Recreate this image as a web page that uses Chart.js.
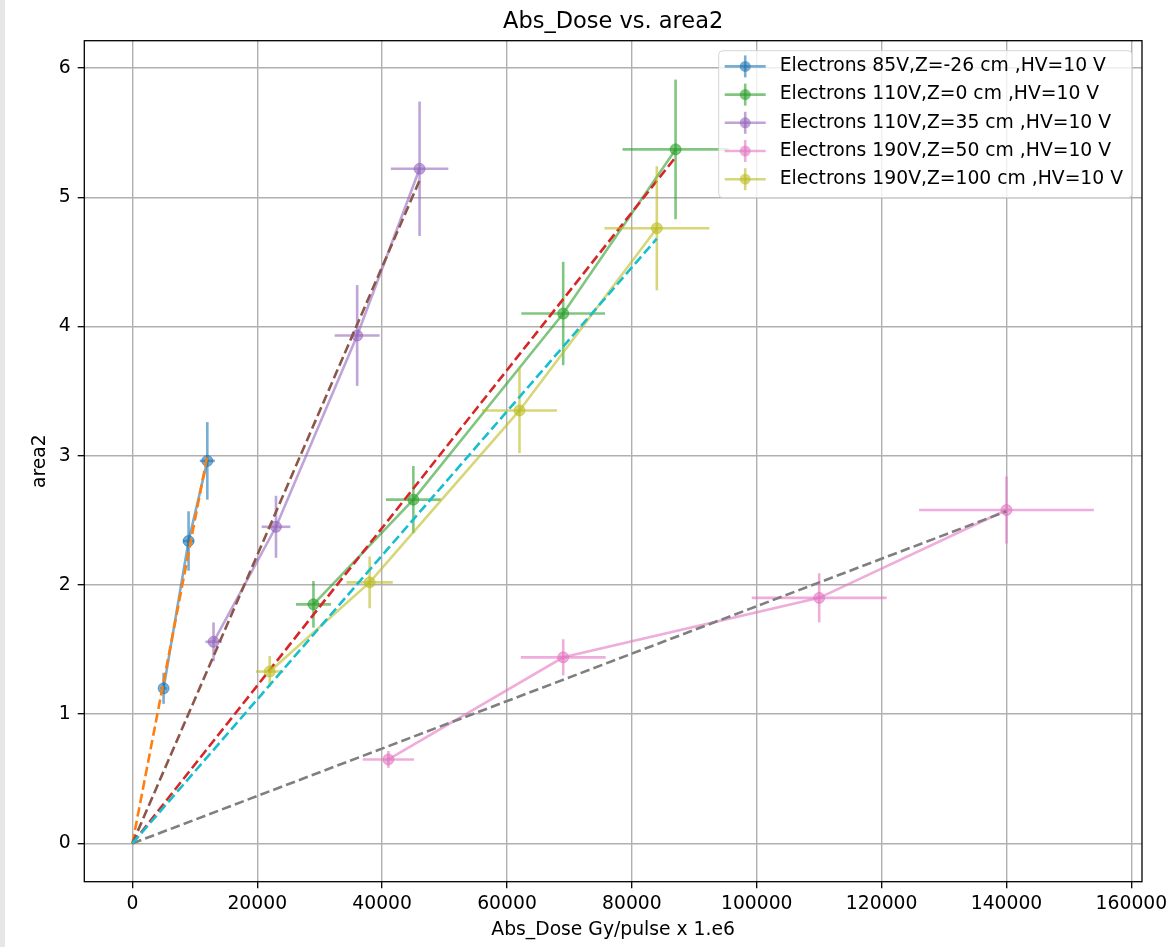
<!DOCTYPE html>
<html>
<head>
<meta charset="utf-8">
<title>Abs_Dose vs. area2</title>
<script src="https://cdn.jsdelivr.net/npm/chart.js@4.4.1/dist/chart.umd.min.js"></script>
<style>
  html, body { margin: 0; padding: 0; background: #fff; }
  #wrap { position: relative; width: 1172px; height: 947px; }
  #strip { position: absolute; left: 0; top: 0; width: 5px; height: 947px; background: #e6e6e6; }
</style>
</head>
<body>
<div id="wrap">
  <canvas id="chart" width="1172" height="947"></canvas>
  <div id="strip"></div>
</div>
<script>
// tick labels
var xTicks = [0, 20000, 40000, 60000, 80000, 100000, 120000, 140000, 160000];
var yTicks = [0, 1, 2, 3, 4, 5, 6];

// legend labels
var seriesLabels = [
    'Electrons 85V,Z=-26 cm ,HV=10 V',
    'Electrons 110V,Z=0 cm ,HV=10 V',
    'Electrons 110V,Z=35 cm ,HV=10 V',
    'Electrons 190V,Z=50 cm ,HV=10 V',
    'Electrons 190V,Z=100 cm ,HV=10 V'
];

// measured points (dose, area2) with error bars
var e85Dose = [5000, 9000, 12000];
var e85Area = [1.20, 2.34, 2.96];
var e85DoseErr = [500, 900, 1200];
var e85AreaErr = [0.12, 0.23, 0.30];

var e110z0Dose = [29000, 45000, 69000, 87000];
var e110z0Area = [1.85, 2.66, 4.10, 5.37];
var e110z0DoseErr = [2800, 4400, 6700, 8500];
var e110z0AreaErr = [0.18, 0.26, 0.40, 0.54];

var e110z35Dose = [13000, 23000, 36000, 46000];
var e110z35Area = [1.56, 2.45, 3.93, 5.22];
var e110z35DoseErr = [1300, 2300, 3600, 4600];
var e110z35AreaErr = [0.15, 0.24, 0.39, 0.52];

var e190z50Dose = [41000, 69000, 110000, 140000];
var e190z50Area = [0.65, 1.44, 1.90, 2.58];
var e190z50DoseErr = [4100, 6800, 10800, 14000];
var e190z50AreaErr = [0.065, 0.14, 0.19, 0.26];

var e190z100Dose = [22000, 38000, 62000, 84000];
var e190z100Area = [1.33, 2.02, 3.35, 4.76];
var e190z100DoseErr = [2200, 3700, 6000, 8400];
var e190z100AreaErr = [0.12, 0.20, 0.33, 0.48];

// dashed fit lines through the origin
var fit85Dose = [0, 12000];
var fit85Area = [0, 3.0];
var fit110z0Dose = [0, 87000];
var fit110z0Area = [0, 5.31];
var fit110z35Dose = [0, 46000];
var fit110z35Area = [0, 5.13];
var fit190z50Dose = [0, 140000];
var fit190z50Area = [0, 2.57];
var fit190z100Dose = [0, 84000];
var fit190z100Area = [0, 4.68];

var FONT = '"DejaVu Sans", "Liberation Sans", sans-serif';
var seriesColors = ['#1f77b4', '#2ca02c', '#9467bd', '#e377c2', '#bcbd22'];
var fitColors = ['#ff7f0e', '#d62728', '#8c564b', '#7f7f7f', '#17becf'];

function rgba(hex, a) {
    var n = parseInt(hex.slice(1), 16);
    return 'rgba(' + (n >> 16) + ',' + ((n >> 8) & 255) + ',' + (n & 255) + ',' + a + ')';
}

function toPoints(xs, ys) {
    return xs.map(function(x, i) { return { x: x, y: ys[i] }; });
}

var measured = [
    [e85Dose, e85Area, e85DoseErr, e85AreaErr],
    [e110z0Dose, e110z0Area, e110z0DoseErr, e110z0AreaErr],
    [e110z35Dose, e110z35Area, e110z35DoseErr, e110z35AreaErr],
    [e190z50Dose, e190z50Area, e190z50DoseErr, e190z50AreaErr],
    [e190z100Dose, e190z100Area, e190z100DoseErr, e190z100AreaErr]
];
var fits = [
    [fit85Dose, fit85Area],
    [fit110z0Dose, fit110z0Area],
    [fit110z35Dose, fit110z35Area],
    [fit190z50Dose, fit190z50Area],
    [fit190z100Dose, fit190z100Area]
];

// matplotlib order: errorbar series, then its fit; later ones on top
var datasets = [];
measured.forEach(function(m, i) {
    var c = rgba(seriesColors[i], 0.6);
    datasets.push({
        label: seriesLabels[i],
        data: toPoints(m[0], m[1]),
        xErr: m[2],
        yErr: m[3],
        errColor: c,
        showLine: true,
        borderColor: c,
        borderWidth: 2.6,
        pointRadius: 5.5,
        pointBackgroundColor: c,
        pointBorderColor: c,
        pointBorderWidth: 1,
        tension: 0
    });
    datasets.push({
        label: 'fit ' + i,
        data: toPoints(fits[i][0], fits[i][1]),
        showLine: true,
        borderColor: fitColors[i],
        borderWidth: 2.6,
        borderDash: [9.5, 4.2],
        pointRadius: 0,
        tension: 0
    });
});
datasets.forEach(function(d, i) { d.order = -i; });

var errorBars = {
    id: 'errorBars',
    beforeDatasetDraw: function(chart, args) {
        var ds = chart.data.datasets[args.index];
        if (!ds.xErr) return;
        var ctx = chart.ctx, xs = chart.scales.x, ys = chart.scales.y;
        ctx.save();
        ctx.strokeStyle = ds.errColor;
        ctx.lineWidth = 2.6;
        ds.data.forEach(function(p, j) {
            var px = xs.getPixelForValue(p.x), py = ys.getPixelForValue(p.y);
            ctx.beginPath();
            ctx.moveTo(xs.getPixelForValue(p.x - ds.xErr[j]), py);
            ctx.lineTo(xs.getPixelForValue(p.x + ds.xErr[j]), py);
            ctx.stroke();
            ctx.beginPath();
            ctx.moveTo(px, ys.getPixelForValue(p.y - ds.yErr[j]));
            ctx.lineTo(px, ys.getPixelForValue(p.y + ds.yErr[j]));
            ctx.stroke();
        });
        ctx.restore();
    }
};

var frameAndLegend = {
    id: 'frameAndLegend',
    afterDatasetsDraw: function(chart) {
        var ctx = chart.ctx, a = chart.chartArea;
        ctx.save();
        ctx.strokeStyle = '#000';
        ctx.lineWidth = 1.3;
        ctx.strokeRect(a.left, a.top, a.right - a.left, a.bottom - a.top);
        ctx.restore();
    },
    afterDraw: function(chart) {
        var ctx = chart.ctx, a = chart.chartArea;
        ctx.save();
        ctx.font = '18.75px ' + FONT;
        var maxW = 0;
        seriesLabels.forEach(function(t) { maxW = Math.max(maxW, ctx.measureText(t).width); });
        var rowH = 28.2, padTop = 15.7;
        var w = 61 + maxW + 9, h = 147;
        var right = a.right - 10, top = a.top + 10, left = right - w;
        ctx.beginPath();
        ctx.roundRect(left, top, w, h, 4);
        ctx.fillStyle = 'rgba(255,255,255,0.8)';
        ctx.fill();
        ctx.strokeStyle = 'rgba(204,204,204,0.8)';
        ctx.lineWidth = 1;
        ctx.stroke();
        seriesLabels.forEach(function(t, i) {
            var y = top + padTop + i * rowH;
            var c = rgba(seriesColors[i], 0.6);
            var cx = left + 26.5;
            ctx.strokeStyle = c;
            ctx.lineWidth = 2.6;
            ctx.beginPath();
            ctx.moveTo(left + 6, y);
            ctx.lineTo(left + 47, y);
            ctx.stroke();
            ctx.beginPath();
            ctx.moveTo(cx, y - 11);
            ctx.lineTo(cx, y + 11);
            ctx.stroke();
            ctx.beginPath();
            ctx.arc(cx, y, 5.5, 0, Math.PI * 2);
            ctx.fillStyle = c;
            ctx.fill();
            ctx.fillStyle = '#000';
            ctx.textBaseline = 'middle';
            ctx.textAlign = 'left';
            ctx.fillText(t, left + 61, y);
        });
        ctx.restore();
    }
};

var chart = new Chart(document.getElementById('chart').getContext('2d'), {
    type: 'scatter',
    data: { datasets: datasets },
    plugins: [errorBars, frameAndLegend],
    options: {
        responsive: false,
        animation: false,
        events: [],
        layout: { padding: { left: 0, right: 30, top: 0, bottom: 0 } },
        plugins: {
            legend: { display: false },
            tooltip: { enabled: false },
            title: {
                display: true,
                text: 'Abs_Dose vs. area2',
                fullSize: false,
                color: '#000',
                font: { family: FONT, size: 22.5, weight: 'normal', lineHeight: 1.2 },
                padding: { top: 8.5, bottom: 5.2 }
            }
        },
        scales: {
            x: {
                type: 'linear',
                min: -7700,
                max: 161700,
                afterFit: function(s) { s.height = 65.3; },
                afterBuildTicks: function(s) { s.ticks = xTicks.map(function(v) { return { value: v }; }); },
                ticks: {
                    color: '#000',
                    padding: 4.5,
                    maxRotation: 0,
                    autoSkip: false,
                    font: { family: FONT, size: 18.75, lineHeight: 1.2 },
                    callback: function(v) { return String(v); }
                },
                grid: { color: '#b0b0b0', lineWidth: 1.4, tickColor: '#000', tickLength: 6.6, tickWidth: 1.3 },
                border: { display: false },
                title: {
                    display: true,
                    text: 'Abs_Dose Gy/pulse x 1.e6',
                    color: '#000',
                    font: { family: FONT, size: 18.75, lineHeight: 1.2 },
                    padding: { top: 0, bottom: 5.75 }
                }
            },
            y: {
                type: 'linear',
                min: -0.296,
                max: 6.211,
                afterFit: function(s) { s.width = 84.3; },
                afterBuildTicks: function(s) { s.ticks = yTicks.map(function(v) { return { value: v }; }); },
                ticks: {
                    color: '#000',
                    padding: 7,
                    autoSkip: false,
                    font: { family: FONT, size: 18.75, lineHeight: 1.2 },
                    callback: function(v) { return String(v); }
                },
                grid: { color: '#b0b0b0', lineWidth: 1.4, tickColor: '#000', tickLength: 6.6, tickWidth: 1.3 },
                border: { display: false },
                title: {
                    display: true,
                    text: 'area2',
                    color: '#000',
                    font: { family: FONT, size: 18.75, lineHeight: 1.2 },
                    padding: { top: 28.75, bottom: 0 }
                }
            }
        }
    }
});
</script>
</body>
</html>
